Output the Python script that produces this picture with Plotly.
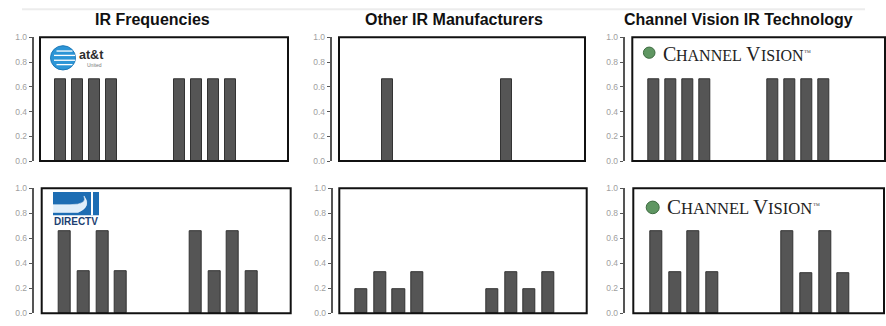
import plotly.graph_objects as go

W, H = 886, 326

# ---- data ----
slots = [1, 2, 3, 4, 8, 9, 10, 11]
other_slots = [2.5, 9.5]

att_values = [0.66, 0.66, 0.66, 0.66, 0.66, 0.66, 0.66, 0.66]
other_top_values = [0.66, 0.66]
cv_top_values = [0.66, 0.66, 0.66, 0.66, 0.66, 0.66, 0.66, 0.66]

directv_values = [0.66, 0.34, 0.66, 0.34, 0.66, 0.34, 0.66, 0.34]
other_bottom_values = [0.19, 0.33, 0.19, 0.33, 0.19, 0.33, 0.19, 0.33]
cv_bottom_values = [0.66, 0.33, 0.66, 0.33, 0.66, 0.32, 0.66, 0.32]

titles = ["IR Frequencies", "Other IR Manufacturers", "Channel Vision IR Technology"]
tick_vals = [0.0, 0.2, 0.4, 0.6, 0.8, 1.0]
tick_text = ["0.0", "0.2", "0.4", "0.6", "0.8", "1.0"]

# ---- layout geometry (pixels) ----
def px(x):
    return x / W

def py(y):
    return 1 - y / H

panels = [
    # (x values, y values, box left, box right, axis x, row, xrange)
    (slots, att_values, 40, 288, 32.5, 0, [-0.21, 14.38]),
    (other_slots, other_top_values, 339, 585, 330.5, 0, [-0.38, 14.09]),
    (slots, cv_top_values, 632.3, 885, 623.5, 0, [-0.26, 14.62]),
    (slots, directv_values, 41.7, 290.7, 32.5, 1, [-0.25, 13.09]),
    (slots, other_bottom_values, 339.3, 586.7, 331.5, 1, [-0.18, 13.05]),
    (slots, cv_bottom_values, 633.3, 884, 623.5, 1, [-0.22, 13.15]),
]
rows_y = [(161, 33.3), (318, 189)]

fig = go.Figure()
layout = dict(
    width=W, height=H, margin=dict(l=0, r=0, t=0, b=0),
    paper_bgcolor="white", plot_bgcolor="white", showlegend=False,
    bargap=0,
)
shapes = []
annotations = []

for i, (xs, ys, bl, br, ax, row, xr) in enumerate(panels, start=1):
    sfx = "" if i == 1 else str(i)
    fig.add_trace(go.Bar(
        x=xs, y=ys, width=0.65,
        marker=dict(color="#555555", line=dict(color="#333333", width=1)),
        xaxis="x" + sfx, yaxis="y" + sfx, hoverinfo="skip",
    ))
    y0, y1 = rows_y[row]
    layout["xaxis" + sfx] = dict(
        domain=[px(bl), px(br)], range=xr, anchor="y" + sfx,
        showgrid=False, zeroline=False, showticklabels=False, showline=False, ticks="",
    )
    layout["yaxis" + sfx] = dict(
        domain=[py(y0), py(y1)], range=[0, 1], anchor="free", position=px(ax),
        showgrid=False, zeroline=False, showline=True, linecolor="#555555", linewidth=1.5,
        ticks="outside", ticklen=3, tickwidth=1.2, tickcolor="#555555",
        tickvals=tick_vals, ticktext=tick_text,
        tickfont=dict(family="Liberation Sans", size=8.5, color="#a0a0a0"),
    )
    shapes.append(dict(
        type="rect", xref="x" + sfx + " domain", yref="y" + sfx + " domain",
        x0=0, x1=1, y0=0, y1=1, line=dict(color="#111111", width=2),
        fillcolor="rgba(0,0,0,0)", layer="above",
    ))

# faint top rule
shapes.append(dict(type="line", xref="paper", yref="paper",
                   x0=px(22), x1=px(865), y0=py(4.5), y1=py(4.5),
                   line=dict(color="#ececec", width=2)))

# titles
title_pos = [(152, "center"), (453.5, "center"), (622, "left")]
for t, (x, anc) in zip(titles, title_pos):
    annotations.append(dict(
        text="<b>" + t + "</b>", xref="paper", yref="paper", x=px(x), y=py(15),
        xanchor=anc, yanchor="middle", showarrow=False,
        font=dict(family="Liberation Sans", size=16, color="#111111"),
    ))

# ---- logos ----
# AT&T globe
gx, gy, gr = 63, 54.5, 12.5
shapes.append(dict(type="circle", xref="paper", yref="paper",
                   x0=px(gx - gr), x1=px(gx + gr), y0=py(gy + gr), y1=py(gy - gr),
                   fillcolor="#2c95d6", line=dict(color="#1b78b8", width=1)))
for dy, half in [(-7, 9.5), (-2.5, 12), (2.5, 12), (7, 9.5)]:
    shapes.append(dict(type="line", xref="paper", yref="paper",
                       x0=px(gx - half + 3), x1=px(gx + half), y0=py(gy + dy), y1=py(gy + dy),
                       line=dict(color="white", width=1.3)))
annotations.append(dict(text="<b>at&t</b>", xref="paper", yref="paper", x=px(76.5), y=py(52),
                        xanchor="left", yanchor="middle", showarrow=False,
                        font=dict(family="Liberation Sans", size=12.5, color="#2e2e2e")))
annotations.append(dict(text="United", xref="paper", yref="paper", x=px(85), y=py(62),
                        xanchor="left", yanchor="middle", showarrow=False,
                        font=dict(family="Liberation Sans", size=5, color="#777777")))

# DIRECTV logo
dl, dr, dt, db = 53, 99, 193, 217
shapes.append(dict(type="path", xref="paper", yref="paper",
                   path=f"M {px(dl)},{py(dt)} L {px(dr)},{py(dt)} L {px(dr)},{py(db)} L {px(dl)},{py(db)} Z",
                   fillcolor="#1d6db3", line=dict(color="#1d6db3", width=0)))
shapes.append(dict(type="path", xref="paper", yref="paper",
                   path=(f"M {px(dl)},{py(206)} L {px(70)},{py(206)} "
                         f"Q {px(88)},{py(206)} {px(84)},{py(197)} "
                         f"Q {px(92)},{py(208)} {px(78)},{py(214)} "
                         f"L {px(dl)},{py(214)} Z"),
                   fillcolor="#dfeefa", line=dict(color="#ffffff", width=0.5)))
shapes.append(dict(type="line", xref="paper", yref="paper",
                   x0=px(92), x1=px(92), y0=py(dt), y1=py(db),
                   line=dict(color="white", width=2)))
annotations.append(dict(text="<b>DIRECTV</b>", xref="paper", yref="paper", x=px(76), y=py(223.5),
                        xanchor="center", yanchor="middle", showarrow=False,
                        font=dict(family="Liberation Sans", size=10, color="#1d3f72")))

# Channel Vision logos (small caps built from separate pieces)
SERIF_W = {"C": 0.667, "H": 0.722, "A": 0.722, "N": 0.722, "E": 0.611, "L": 0.611,
           "V": 0.722, "I": 0.333, "S": 0.556, "O": 0.722, " ": 0.25}

def text_w(s, size):
    return sum(SERIF_W[c] for c in s) * size

def cv_logo(cx, cy, r, tx, baseline, big, small):
    shapes.append(dict(type="circle", xref="paper", yref="paper",
                       x0=px(cx - r), x1=px(cx + r), y0=py(cy + r), y1=py(cy - r),
                       fillcolor="#5f9662", line=dict(color="#3d6b40", width=1)))
    x = tx
    for piece, size in [("C", big), ("HANNEL", small), (" ", small), ("V", big), ("ISION", small)]:
        if piece.strip():
            bottom = baseline + 0.216 * size
            annotations.append(dict(text=piece, xref="paper", yref="paper",
                                    x=px(x), y=py(bottom), xanchor="left", yanchor="bottom",
                                    showarrow=False, borderpad=0, borderwidth=0,
                                    font=dict(family="Liberation Serif", size=size, color="#222222")))
        x += text_w(piece, size)
    annotations.append(dict(text="™", xref="paper", yref="paper",
                            x=px(x + 0.5), y=py(baseline - 0.62 * big), xanchor="left", yanchor="top",
                            showarrow=False, borderpad=0, borderwidth=0,
                            font=dict(family="Liberation Serif", size=7, color="#444444")))

cv_logo(649.2, 49.2, 5.8, 663, 57.8, 20, 16)
cv_logo(652.7, 208.8, 6.5, 666.5, 216.2, 21, 16.6)

layout["shapes"] = shapes
layout["annotations"] = annotations
fig.update_layout(**layout)
fig.write_html("out.html", config={"displayModeBar": False},
               post_script="document.body.style.margin='0';document.body.style.overflow='hidden';")
